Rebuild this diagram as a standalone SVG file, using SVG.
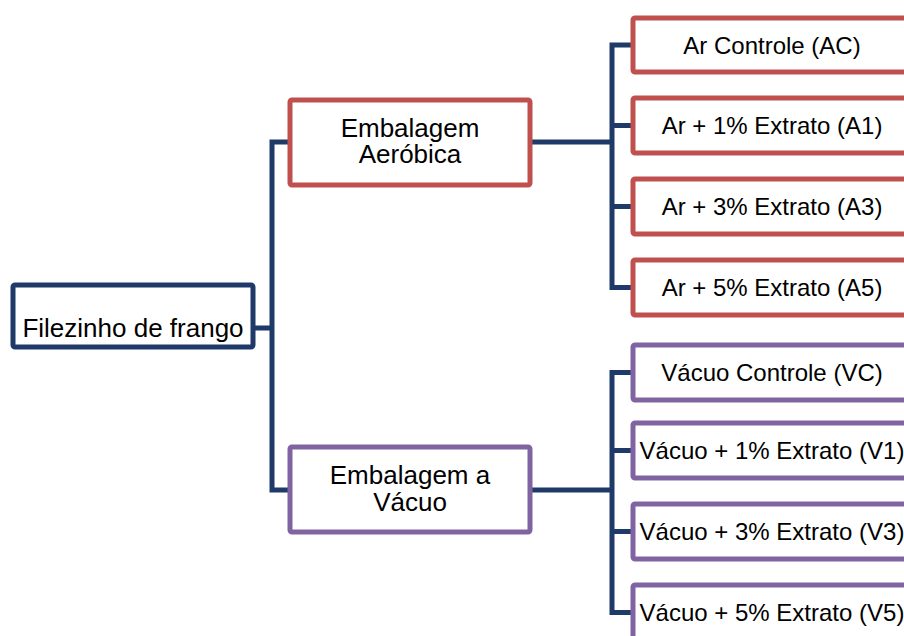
<svg xmlns="http://www.w3.org/2000/svg" width="904" height="636" viewBox="0 0 904 636">
<style>
.box{fill:#fff;stroke-width:5;stroke-linejoin:round}
.root{stroke:#1F3A68}
.red{stroke:#C0504D}
.pur{stroke:#8064A2}
.t{font-family:"Liberation Sans",Arial,sans-serif;fill:#000;text-anchor:middle}
.big{font-size:26px}
.sm{font-size:24px}
.con{fill:none;stroke:#1F3A68;stroke-width:5;stroke-linejoin:miter}
</style>
<rect width="904" height="636" fill="#fff"/>
<g id="connectors">
<path class="con" d="M253 328 H272 M290 142 H272 V490 H290"/>
<path class="con" d="M530 142 H612 M633 45 H612 V287.5 H633 M612 125.5 H633 M612 206.5 H633"/>
<path class="con" d="M530 490 H612 M633 372.5 H612 V612.5 H633 M612 450.5 H633 M612 531.5 H633"/>
</g>
<g id="root">
<rect class="box root" x="13" y="285" width="240" height="62" rx="2"/>
<text class="t big" x="133" y="337">Filezinho de frango</text>
</g>
<g id="aerobica">
<rect class="box red" x="290" y="100" width="240" height="85" rx="2"/>
<text class="t big" x="410" y="137">Embalagem</text>
<text class="t big" x="410" y="163">Aeróbica</text>
</g>
<g id="vacuo">
<rect class="box pur" x="290" y="447" width="240" height="85" rx="2"/>
<text class="t big" x="410" y="484">Embalagem a</text>
<text class="t big" x="410" y="511">Vácuo</text>
</g>
<g id="AC">
<rect class="box red" x="633" y="18" width="280" height="54" rx="2"/>
<text class="t sm" x="772" y="53.5">Ar Controle (AC)</text>
</g>
<g id="A1">
<rect class="box red" x="633" y="98" width="280" height="55" rx="2"/>
<text class="t sm" x="772" y="134">Ar + 1% Extrato (A1)</text>
</g>
<g id="A3">
<rect class="box red" x="633" y="179" width="280" height="55" rx="2"/>
<text class="t sm" x="772" y="215">Ar + 3% Extrato (A3)</text>
</g>
<g id="A5">
<rect class="box red" x="633" y="260" width="280" height="55" rx="2"/>
<text class="t sm" x="772" y="296">Ar + 5% Extrato (A5)</text>
</g>
<g id="VC">
<rect class="box pur" x="633" y="345" width="280" height="55" rx="2"/>
<text class="t sm" x="772" y="381">Vácuo Controle (VC)</text>
</g>
<g id="V1">
<rect class="box pur" x="633" y="423" width="280" height="55" rx="2"/>
<text class="t sm" x="772" y="459">Vácuo + 1% Extrato (V1)</text>
</g>
<g id="V3">
<rect class="box pur" x="633" y="504" width="280" height="55" rx="2"/>
<text class="t sm" x="772" y="540">Vácuo + 3% Extrato (V3)</text>
</g>
<g id="V5">
<rect class="box pur" x="633" y="585" width="280" height="55" rx="2"/>
<text class="t sm" x="772" y="621">Vácuo + 5% Extrato (V5)</text>
</g>
</svg>
